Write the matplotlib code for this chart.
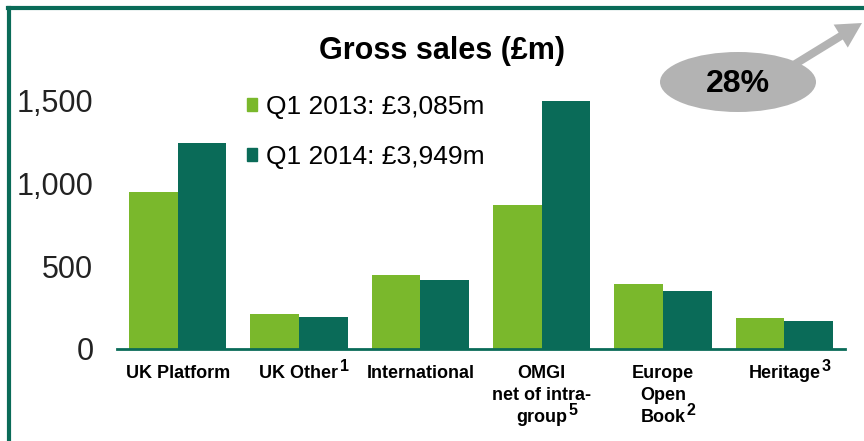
import matplotlib.pyplot as plt
import numpy as np
from matplotlib.patches import Patch, Ellipse, FancyArrow
from matplotlib.lines import Line2D
import matplotlib.transforms as mtransforms

categories = ['UK Platform', 'UK Other', 'International',
              'OMGI\nnet of intra-\ngroup', 'Europe\nOpen\nBook', 'Heritage']
footnotes = ['', '1', '', '5', '2', '3']
q1_2013 = [950, 212, 448, 871, 393, 188]
q1_2014 = [1246, 194, 417, 1500, 351, 169]
series_labels = ['Q1 2013: £3,085m', 'Q1 2014: £3,949m']
yticks = [0, 500, 1000, 1500]

light = '#7ab82c'
dark = '#0a6b58'

plt.rcParams['font.family'] = ['Liberation Sans', 'DejaVu Sans']

fig = plt.figure(figsize=(8.64, 4.41), dpi=100)
ax = fig.add_axes([117 / 864, 92 / 441, 728 / 864, 272 / 441])

x = np.arange(len(categories))
w = 0.4
ax.bar(x - w / 2, q1_2013, w, color=light, label=series_labels[0])
ax.bar(x + w / 2, q1_2014, w, color=dark, label=series_labels[1])

ax.set_xlim(-0.5, 5.5)
ax.set_ylim(0, 1645)
ax.set_yticks(yticks)
ax.set_yticklabels([f'{v:,}' for v in yticks], fontsize=22, color='#222222')
ax.set_xticks(x)
ax.set_xticklabels([])
ax.tick_params(axis='both', length=0)
ax.tick_params(axis='y', pad=17)
for s in ['top', 'right', 'left']:
    ax.spines[s].set_visible(False)
ax.spines['bottom'].set_color(dark)
ax.spines['bottom'].set_linewidth(2)

# category labels, one text per line, footnote markers after the last line
trans = mtransforms.blended_transform_factory(ax.transData, ax.transAxes)
line_h = 22 / 272
for i, (label, note) in enumerate(zip(categories, footnotes)):
    last = None
    for j, line in enumerate(label.split('\n')):
        last = ax.text(i, -24 / 272 - j * line_h, line, transform=trans, ha='center',
                       va='center', fontsize=13, fontweight='bold', clip_on=False)
    if note:
        ax.annotate(note, xy=(1, 1), xycoords=last, xytext=(1, 4), textcoords='offset points',
                    ha='left', va='top', fontsize=11.5, fontweight='bold')

handles = [Patch(color=light), Patch(color=dark)]
ax.legend(handles, series_labels, loc='upper left', bbox_to_anchor=(247 / 864, 1 - 95 / 441),
          bbox_transform=fig.transFigure, frameon=False, fontsize=19,
          handlelength=0.38, handleheight=0.38, handletextpad=0.35, labelspacing=1.0,
          borderaxespad=0, borderpad=0)

fig.text(442 / 864, 1 - 51 / 441, 'Gross sales (£m)', ha='center', va='center',
         fontsize=22, fontweight='bold')

# overlay in pixel coordinates for frame, ellipse and arrow
ov = fig.add_axes([0, 0, 1, 1], zorder=5)
ov.set_xlim(0, 864)
ov.set_ylim(441, 0)
ov.axis('off')
ov.patch.set_alpha(0)
ov.add_line(Line2D([9, 9], [441, 8], color=dark, lw=3))
ov.add_line(Line2D([8, 864], [8, 8], color=dark, lw=3))
ov.add_patch(FancyArrow(792, 66, 70, -43, width=8, head_width=27, head_length=25,
                        length_includes_head=True, color='#b3b3b3', lw=0))
ov.add_patch(Ellipse((738, 82), 156, 60, color='#b3b3b3', lw=0))
ov.text(738, 84, '28%', ha='center', va='center', fontsize=23, fontweight='bold')

fig.savefig('out.png', dpi=100)
